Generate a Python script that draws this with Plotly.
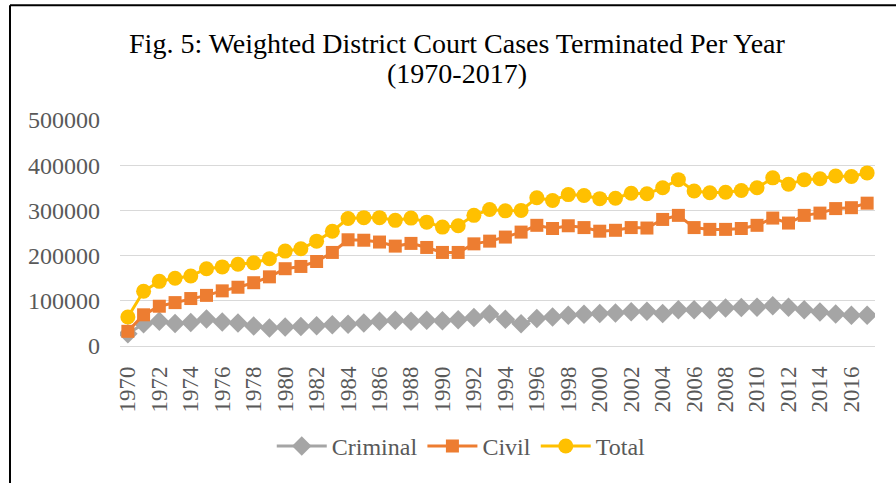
import plotly.graph_objects as go

years = list(range(1970, 2018))

criminal = [27000, 49500, 55000, 50000, 52000, 60000, 53000, 51000, 44000, 40000,
            42000, 43000, 45000, 47000, 48000, 51000, 55000, 57000, 55000, 57000,
            56000, 58000, 63000, 71000, 59000, 49000, 61000, 64000, 68000, 70000,
            72000, 73000, 76000, 77000, 72000, 80000, 80000, 80000, 84000, 85000,
            86000, 89000, 86000, 80000, 75000, 71000, 68000, 68000]

civil = [32500, 69000, 88000, 96000, 105000, 112000, 122000, 130000, 140000, 153000,
         171000, 176000, 187000, 207000, 235000, 234000, 230000, 221000, 227000, 218000,
         207000, 207000, 226000, 232000, 241000, 252000, 267000, 260000, 266000, 262000,
         254000, 256000, 262000, 261000, 280000, 289000, 262000, 258000, 258000, 260000,
         267000, 283000, 272000, 289000, 294000, 304000, 306000, 316000]

total = [64000, 121000, 143000, 150000, 155000, 171000, 175000, 181000, 184000, 193000,
         210000, 215000, 232000, 254000, 282000, 284000, 284000, 278000, 283000, 274000,
         263000, 266000, 289000, 302000, 299000, 300000, 328000, 322000, 335000, 333000,
         326000, 327000, 338000, 337000, 350000, 368000, 343000, 339000, 340000, 344000,
         350000, 372000, 358000, 368000, 370000, 376000, 375000, 383000]

title_line1 = 'Fig. 5: Weighted District Court Cases Terminated Per Year'
title_line2 = '(1970-2017)'

# excel-ish colours
grey = '#A5A5A5'
orange = '#ED7D31'
gold = '#FFC000'
text_grey = '#595959'
serif = 'Liberation Serif'

fig = go.Figure()

fig.add_trace(go.Scatter(x=years, y=criminal, name='Criminal', mode='lines+markers',
                         line=dict(color=grey, width=3),
                         marker=dict(symbol='diamond', size=15, color=grey)))
fig.add_trace(go.Scatter(x=years, y=civil, name='Civil', mode='lines+markers',
                         line=dict(color=orange, width=3),
                         marker=dict(symbol='square', size=13, color=orange)))
fig.add_trace(go.Scatter(x=years, y=total, name='Total', mode='lines+markers',
                         line=dict(color=gold, width=3),
                         marker=dict(symbol='circle', size=15, color=gold)))

# frame around the chart (only top and left show in the crop)
fig.add_shape(type='line', xref='paper', yref='paper', x0=-0.1457, x1=1.04, y0=1.5075, y1=1.5075,
              line=dict(color='black', width=2))
fig.add_shape(type='line', xref='paper', yref='paper', x0=-0.1457, x1=-0.1457, y0=1.5075, y1=-0.62,
              line=dict(color='black', width=2))

# second title line sits tighter than plotly's <br> spacing
fig.add_annotation(text=title_line2, xref='paper', yref='paper', x=0.446, y=1.2066,
                   xanchor='center', yanchor='middle', showarrow=False,
                   font=dict(family=serif, size=28, color='black'))

fig.update_layout(
    width=896, height=483,
    margin=dict(l=120, r=21, t=120, b=137),
    paper_bgcolor='white', plot_bgcolor='white',
    font=dict(family=serif, size=24, color=text_grey),
    title=dict(text=title_line1, x=0.51, xanchor='center', y=0.911, yanchor='middle',
               font=dict(family=serif, size=28, color='black')),
    xaxis=dict(range=[1969.5, 2017.5], tickmode='linear', tick0=1970, dtick=2,
               tickangle=-90, showgrid=False, zeroline=False, showline=False,
               tickfont=dict(size=23, color=text_grey), ticklabelstandoff=15),
    yaxis=dict(range=[0, 500000], dtick=100000, tickformat='d',
               showgrid=True, gridcolor='#D9D9D9', gridwidth=1,
               zeroline=True, zerolinecolor='#D9D9D9', zerolinewidth=1,
               showline=False, tickfont=dict(size=24, color=text_grey), ticklabelstandoff=19),
    legend=dict(orientation='h', x=0.452, xanchor='center', y=-0.444, yanchor='middle',
                font=dict(size=24, color=text_grey), bgcolor='rgba(0,0,0,0)',
                itemwidth=50),
    showlegend=True,
)

# page has a default 8px body margin, drop it so the figure sits at 0,0
fig.write_html("out.html", config={'displayModeBar': False},
               post_script="document.body.style.margin='0';")
